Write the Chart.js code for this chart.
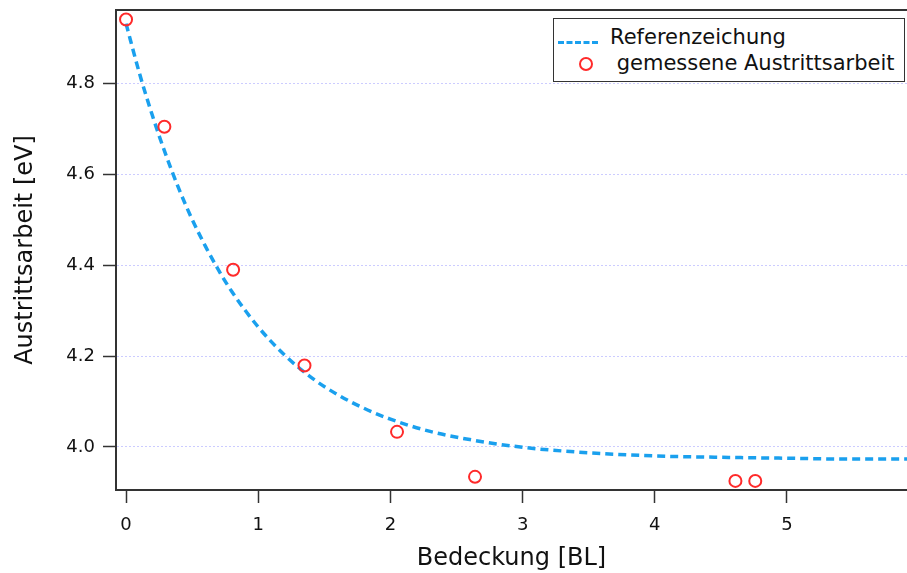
<!DOCTYPE html>
<html lang="de">
<head>
  <meta charset="UTF-8">
  <title>Austrittsarbeit vs. Bedeckung</title>
  <script src="https://cdn.jsdelivr.net/npm/chart.js"></script>
  <style>
    html, body { margin: 0; padding: 0; background: #fff; }
    #wrap { position: relative; width: 907px; height: 573px; }
    #legend {
      position: absolute; left: 553px; top: 18px; width: 350px; height: 62px;
      border: 1.5px solid #333; background: #fff;
      font-family: "DejaVu Sans", sans-serif; font-size: 21px; color: #111;
    }
    .row { position: absolute; left: 0; height: 26px; line-height: 26px; white-space: pre; }
    .dash { position: absolute; left: 4px; top: 17px; width: 40px; height: 0; border-top: 3.5px dashed #1aa0ee; }
    .circ { position: absolute; left: 25px; top: 7px; width: 10px; height: 10px; border: 2px solid #ff2a2a; border-radius: 50%; }
  </style>
</head>
<body>
  <div id="wrap">
    <canvas id="chart" width="907" height="573"></canvas>
    <div id="legend"></div>
  </div>

  <script>
    // gemessene Austrittsarbeit
    const bedeckung = [0, 0.29, 0.81, 1.35, 2.05, 2.64, 4.61, 4.76];
    const austritt = [4.941, 4.705, 4.39, 4.179, 4.033, 3.934, 3.925, 3.925];

    const refX = [0, 0.1, 0.2, 0.3, 0.4, 0.5, 0.6, 0.7, 0.8, 1.0, 1.2, 1.4, 1.6, 1.8, 2.0, 2.3, 2.6, 3.0, 3.5, 4.0, 4.5, 5.0, 5.5, 5.91];
    const refY = [4.932, 4.824, 4.729, 4.644, 4.568, 4.501, 4.442, 4.389, 4.342, 4.264, 4.202, 4.153, 4.115, 4.085, 4.061, 4.034, 4.016, 3.999, 3.987, 3.980, 3.977, 3.975, 3.973, 3.973];

    const xTicks = [0, 1, 2, 3, 4, 5];
    const yTicks = [4.0, 4.2, 4.4, 4.6, 4.8];

    const labels = ['Referenzeichung', ' gemessene Austrittsarbeit'];

    const axisColor = '#333';

    const topLine = {
      id: 'topLine',
      afterDraw(chart) {
        const a = chart.chartArea, ctx = chart.ctx;
        ctx.save();
        ctx.strokeStyle = axisColor;
        ctx.lineWidth = 2;
        ctx.beginPath();
        ctx.moveTo(a.left, a.top);
        ctx.lineTo(a.right, a.top);
        ctx.stroke();
        ctx.restore();
      }
    };

    const ctx = document.getElementById('chart').getContext('2d');
    new Chart(ctx, {
      type: 'scatter',
      data: {
        datasets: [
          {
            label: labels[1],
            data: bedeckung.map((x, i) => ({ x, y: austritt[i] })),
            pointRadius: 6,
            pointBorderWidth: 2,
            borderColor: '#ff2a2a',
            backgroundColor: 'rgba(0,0,0,0)',
            showLine: false
          },
          {
            label: labels[0],
            data: refX.map((x, i) => ({ x, y: refY[i] })),
            showLine: true,
            pointRadius: 0,
            borderColor: '#1aa0ee',
            borderWidth: 3.5,
            borderDash: [8, 5],
            cubicInterpolationMode: 'monotone'
          }
        ]
      },
      options: {
        responsive: false,
        animation: false,
        layout: { autoPadding: false, padding: { top: 10, right: 0, left: 0, bottom: 0 } },
        plugins: { legend: { display: false }, tooltip: { enabled: false } },
        scales: {
          x: {
            type: 'linear',
            min: -0.076, max: 5.908,
            afterBuildTicks: s => { s.ticks = xTicks.map(v => ({ value: v })); },
            afterFit: s => { s.height = 83; s.paddingLeft = 0; s.paddingRight = 0; },
            grid: { drawOnChartArea: false, tickLength: 13, tickColor: axisColor, tickWidth: 1.5 },
            border: { color: axisColor, width: 2 },
            ticks: { color: '#111', padding: 12, font: { family: 'DejaVu Sans', size: 18 }, callback: v => String(v) },
            title: { display: true, text: 'Bedeckung [BL]', color: '#111',
                     font: { family: 'DejaVu Sans', size: 24 }, padding: { top: 0, bottom: 0 } }
          },
          y: {
            min: 3.905, max: 4.962,
            afterBuildTicks: s => { s.ticks = yTicks.map(v => ({ value: v })); },
            afterFit: s => { s.width = 116; s.paddingTop = 0; s.paddingBottom = 0; },
            grid: { color: '#ccccff', lineWidth: 1, tickLength: 13, tickColor: axisColor, tickWidth: 1.5 },
            border: { color: axisColor, width: 2, dash: [2, 2] },
            ticks: { color: '#111', padding: 8, font: { family: 'DejaVu Sans', size: 18 }, callback: v => v.toFixed(1) },
            title: { display: true, text: 'Austrittsarbeit [eV]', color: '#111',
                     font: { family: 'DejaVu Sans', size: 24 }, padding: { top: 11, bottom: 0 } }
          }
        }
      },
      plugins: [topLine]
    });

    // Legende als HTML
    const leg = document.getElementById('legend');
    leg.innerHTML =
      `<div class="row" style="top:5px"><span class="dash"></span><span style="position:absolute;left:56px">${labels[0]}</span></div>` +
      `<div class="row" style="top:31px"><span class="circ"></span><span style="position:absolute;left:56px">${labels[1]}</span></div>`;
  </script>
</body>
</html>
